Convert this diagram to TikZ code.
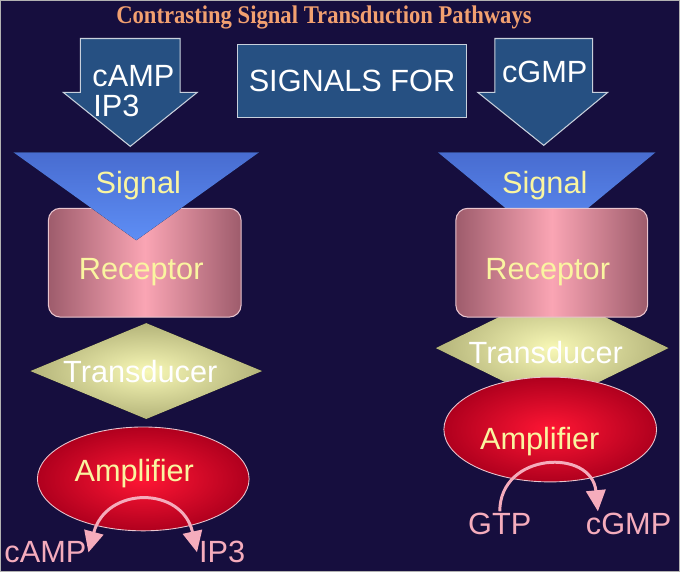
\documentclass[tikz,border=0pt]{standalone}
\usepackage{fontspec}
\setmainfont{Liberation Sans}
\newfontfamily\titlefont{Liberation Serif}
\usetikzlibrary{arrows.meta,shapes.geometric}
\definecolor{bgnavy}{RGB}{22,14,62}
\definecolor{titlesalmon}{RGB}{242,160,112}
\definecolor{boxblue}{RGB}{38,80,130}
\definecolor{boxline}{RGB}{200,208,220}
\definecolor{sigtop}{RGB}{72,108,208}
\definecolor{sigbot}{RGB}{94,142,245}
\definecolor{recedge}{RGB}{158,92,108}
\definecolor{recmid}{RGB}{250,165,180}
\definecolor{recline}{RGB}{232,196,206}
\definecolor{transin}{RGB}{248,248,182}
\definecolor{transout}{RGB}{180,180,122}
\definecolor{ampin}{RGB}{255,22,52}
\definecolor{ampout}{RGB}{176,0,30}
\definecolor{paleyellow}{RGB}{250,245,160}
\definecolor{flowpink}{RGB}{245,172,188}

\begin{document}
\begin{tikzpicture}[x=0.02cm, y=-0.02cm,
    bigtext/.style={font=\fontsize{17.5}{20}\selectfont, inner sep=1pt},
    blockarrow/.style={fill=boxblue, draw=boxline, line width=0.6pt},
    signalshape/.style={top color=sigtop, bottom color=sigbot, draw=none},
    receptorbox/.style={rectangle, rounded corners=0.24cm, minimum width=3.86cm,
        minimum height=2.18cm, left color=recedge, right color=recedge,
        middle color=recmid, draw=recline, line width=0.6pt},
    transshape/.style={inner color=transin, outer color=transout, draw=none},
    ampshape/.style={ellipse, minimum width=4.24cm, minimum height=2.08cm,
        inner color=ampin, outer color=ampout, draw=recline, line width=0.5pt},
    flow/.style={draw=flowpink, line width=1.7pt,
        {Triangle[length=12pt,width=11pt]}-{Triangle[length=12pt,width=11pt]}},
    flowone/.style={draw=flowpink, line width=1.7pt,
        -{Triangle[length=12pt,width=11pt]}},
]
    %% background
    \fill[bgnavy, draw=gray!60, line width=0.5pt] (0,0) rectangle (680,572);
    \node[anchor=base, text=titlesalmon, font=\titlefont\bfseries\fontsize{14.5}{16}\selectfont]
        (title) at (324,23) {\scalebox{0.89}[1]{Contrasting Signal Transduction Pathways}};

    %% next three are the signals on top
    \draw[blockarrow] (80,38) -- (180,38) -- (180,92) -- (197,92) -- (130,146) -- (63,92) -- (80,92) -- cycle;
    \node[bigtext, anchor=base west, text=white] (inL1) at (90,86) {cAMP};
    \node[bigtext, anchor=base west, text=white] (inL2) at (91,116) {IP3};
    \node[bigtext, rectangle, fill=boxblue, draw=boxline, line width=0.6pt,
        minimum width=4.6cm, minimum height=1.46cm, text=white] (signals) at (352,80.5) {SIGNALS FOR};
    \draw[blockarrow] (495,38) -- (593,38) -- (593,92) -- (608,92) -- (544,145) -- (478,92) -- (495,92) -- cycle;
    \node[bigtext, anchor=base, text=white] (inR) at (545,82) {cGMP};

    %% left pathway
    \node[receptorbox] (recL) at (144.5,262.5) {};
    \fill[signalshape] (13,152) -- (259,152) -- (136,240) -- cycle;
    \node[bigtext, anchor=base, text=paleyellow] (sigL) at (138,193) {Signal};
    \node[bigtext, anchor=base, text=paleyellow] (recLtxt) at (141,279) {Receptor};
    \fill[transshape] (30,371) -- (146,323) -- (262,371) -- (146,419) -- cycle;
    \node[bigtext, anchor=base, text=white] (transL) at (140,382) {Transducer};
    \node[ampshape] (ampL) at (143,479) {};
    \node[bigtext, anchor=base, text=paleyellow] (ampLtxt) at (134,482) {Amplifier};
    \node[bigtext, anchor=base, text=flowpink] (campL) at (45,563) {cAMP};
    \node[bigtext, anchor=base, text=flowpink] (ipL) at (222,563) {IP3};
    \draw[flow] (campL.east) .. controls (106,486) and (182,486) .. (ipL.west);

    %% right pathway
    \fill[signalshape] (438,152) -- (656,152) -- (547,242) -- cycle;
    \node[bigtext, anchor=base, text=paleyellow] (sigR) at (545,193) {Signal};
    \fill[transshape] (436,348) -- (552,291) -- (669,348) -- (552,405) -- cycle;
    \node[receptorbox, minimum width=3.84cm] (recR) at (552,262.5) {};
    \node[bigtext, anchor=base, text=paleyellow] (recRtxt) at (548,279) {Receptor};
    \node[bigtext, anchor=base, text=white] (transR) at (546,363) {Transducer};
    \node[ampshape, minimum width=4.26cm, minimum height=2.1cm] (ampR) at (550.5,429.5) {};
    \node[bigtext, anchor=base, text=paleyellow] (ampRtxt) at (540,450) {Amplifier};
    \node[bigtext, anchor=base, text=flowpink] (gtpR) at (500,535) {GTP};
    \node[bigtext, anchor=base, text=flowpink] (cgmpR) at (629,535) {cGMP};
    \draw[flowone] (gtpR.north) .. controls (500,452) and (592,448) .. ([xshift=8pt]cgmpR.north west);
\end{tikzpicture}
\end{document}
